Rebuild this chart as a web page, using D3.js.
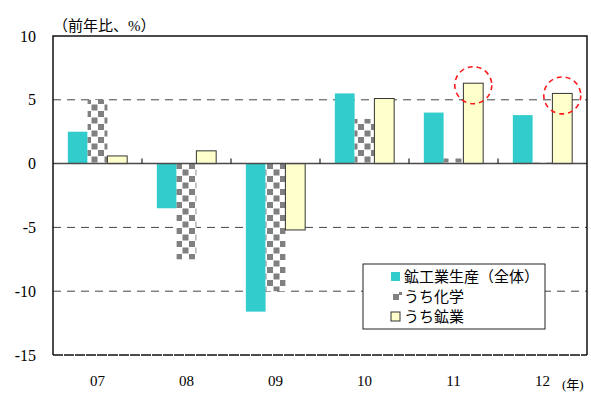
<!DOCTYPE html>
<html>
<head>
<meta charset="utf-8">
<script src="https://cdn.jsdelivr.net/npm/d3@7"></script>
<style>
  html, body { margin: 0; padding: 0; background: #fff; }
  svg { display: block; }
</style>
</head>
<body>
<svg id="chart" width="591" height="394"></svg>
<script>
// Year labels and growth rates (y/y, %)
const years = ["07", "08", "09", "10", "11", "12"];
const seriesNames = ["鉱工業生産（全体）", "うち化学", "うち鉱業"];
const totalProduction = [2.5, -3.5, -11.6, 5.5, 4.0, 3.8];
const chemicals = [5.0, -7.5, -10.0, 3.5, 0.4, 0.1];
const mining = [0.6, 1.0, -5.2, 5.1, 6.3, 5.5];
const yTicks = [10, 5, 0, -5, -10, -15];
const highlightYears = ["11", "12"];

const svg = d3.select("#chart");
const plotLeft = 53, plotRight = 587, plotTop = 36, plotBottom = 355;

const x = d3.scaleBand().domain(years).range([plotLeft, plotRight]).paddingInner(0).paddingOuter(0);
const inner = d3.scaleBand().domain([0, 1, 2]).range([0, x.bandwidth()]).paddingOuter(0.75).paddingInner(0);
const y = d3.scaleLinear().domain([-15, 10]).range([plotBottom, plotTop]);

const serif = "'Liberation Serif', 'Times New Roman', serif";
const cjk = "'Liberation Serif', 'Noto Sans CJK JP', serif";

// checker fill for the chemicals series
const defs = svg.append("defs");
const pat = defs.append("pattern")
  .attr("id", "checker").attr("patternUnits", "userSpaceOnUse")
  .attr("width", 13).attr("height", 13);
pat.append("rect").attr("width", 13).attr("height", 13).attr("fill", "#fff");
pat.append("rect").attr("x", 0.5).attr("y", 0.5).attr("width", 6).attr("height", 6).attr("fill", "#808080");
pat.append("rect").attr("x", 7).attr("y", 7).attr("width", 6).attr("height", 6).attr("fill", "#808080");

// dashed gridlines
svg.append("g").selectAll("line")
  .data([5, -5, -10]).join("line")
  .attr("x1", plotLeft).attr("x2", plotRight)
  .attr("y1", d => y(d)).attr("y2", d => y(d))
  .attr("stroke", "#444").attr("stroke-width", 1)
  .attr("stroke-dasharray", "8,6");

// bars
const series = [
  { values: totalProduction, fill: "#33CCCC", stroke: "none" },
  { values: chemicals, fill: "url(#checker)", stroke: "none" },
  { values: mining, fill: "#FFFFCC", stroke: "#333" }
];
series.forEach((s, i) => {
  svg.append("g").selectAll("rect")
    .data(years.map((yr, j) => ({ yr, v: s.values[j] })))
    .join("rect")
    .attr("x", d => x(d.yr) + inner(i))
    .attr("width", inner.bandwidth())
    .attr("y", d => y(Math.max(0, d.v)))
    .attr("height", d => Math.abs(y(d.v) - y(0)))
    .attr("fill", s.fill)
    .attr("stroke", s.stroke)
    .attr("stroke-width", s.stroke === "none" ? 0 : 1);
});

// zero line with category separators
svg.append("line")
  .attr("x1", plotLeft).attr("x2", plotRight).attr("y1", y(0)).attr("y2", y(0))
  .attr("stroke", "#4a4a4a").attr("stroke-width", 1.5);
svg.append("g").selectAll("line")
  .data(years.slice(1)).join("line")
  .attr("x1", d => x(d)).attr("x2", d => x(d))
  .attr("y1", y(0) - 5).attr("y2", y(0))
  .attr("stroke", "#222").attr("stroke-width", 1.2);

// frame: solid top/left/right, dashed bottom
svg.append("path")
  .attr("d", `M${plotLeft},${plotBottom} L${plotLeft},${plotTop} L${plotRight},${plotTop} L${plotRight},${plotBottom}`)
  .attr("fill", "none").attr("stroke", "#111").attr("stroke-width", 1.5);
svg.append("line")
  .attr("x1", plotLeft).attr("x2", plotRight).attr("y1", plotBottom).attr("y2", plotBottom)
  .attr("stroke", "#111").attr("stroke-width", 1.5).attr("stroke-dasharray", "10,1");

// y-axis labels
svg.append("g").selectAll("text")
  .data(yTicks).join("text")
  .attr("x", 36).attr("y", d => y(d) + 5.5)
  .attr("text-anchor", "end")
  .attr("font-family", serif).attr("font-size", 16)
  .text(d => d);

// x-axis labels
svg.append("g").selectAll("text")
  .data(years).join("text")
  .attr("x", d => x(d) + x.bandwidth() / 2).attr("y", 386)
  .attr("text-anchor", "middle")
  .attr("font-family", serif).attr("font-size", 15)
  .text(d => d);

svg.append("text").attr("x", 53).attr("y", 31)
  .attr("font-family", cjk).attr("font-size", 15).text("（前年比、%）");
svg.append("text").attr("x", 562).attr("y", 389)
  .attr("font-family", cjk).attr("font-size", 13).text("(年)");

// red dashed circles around highlighted mining bars
svg.append("g").selectAll("circle")
  .data(highlightYears).join("circle")
  .attr("cx", d => x(d) + inner(2) + inner.bandwidth() / 2)
  .attr("cy", d => y(mining[years.indexOf(d)]) + 2)
  .attr("r", 18.5)
  .attr("fill", "none").attr("stroke", "#FF1A1A").attr("stroke-width", 1.6)
  .attr("stroke-dasharray", "5,4");

// legend
const lg = svg.append("g").attr("transform", "translate(363,264)");
lg.append("rect").attr("width", 182).attr("height", 65)
  .attr("fill", "#fff").attr("stroke", "#222").attr("stroke-width", 1);
const legendRows = lg.selectAll("g").data(seriesNames).join("g")
  .attr("transform", (d, i) => `translate(0,${12 + i * 20})`);
legendRows.append("rect")
  .attr("x", (d, i) => i === 1 ? 30 : 28)
  .attr("y", (d, i) => i === 1 ? -2 : -4)
  .attr("width", (d, i) => i === 1 ? 6 : 9)
  .attr("height", (d, i) => i === 1 ? 6 : 9)
  .attr("fill", (d, i) => i === 0 ? "#33CCCC" : i === 1 ? "#808080" : "#FFFFCC")
  .attr("stroke", (d, i) => i === 2 ? "#333" : "none");
legendRows.filter((d, i) => i === 1).append("rect")
  .attr("x", 36).attr("y", -4).attr("width", 3).attr("height", 3).attr("fill", "#808080");
legendRows.append("text")
  .attr("x", 41).attr("y", 5.5)
  .attr("font-family", cjk).attr("font-size", 15)
  .text(d => d);
</script>
</body>
</html>
